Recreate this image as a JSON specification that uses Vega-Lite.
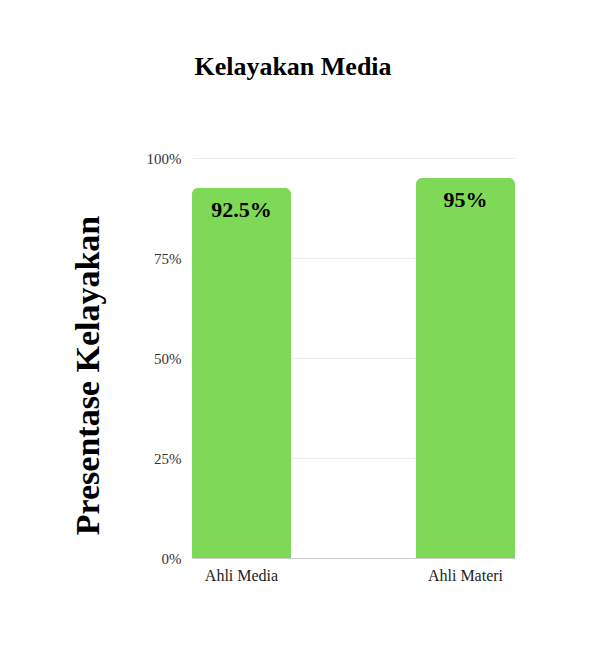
{
  "$schema": "https://vega.github.io/schema/vega-lite/v6.json",
  "autosize": {"type": "none"},
  "width": 323,
  "height": 400,
  "padding": {"left": 192, "top": 158, "right": 96, "bottom": 97},
  "background": "white",
  "title": {
    "text": "Kelayakan Media",
    "font": "Liberation Serif",
    "fontSize": 26,
    "fontWeight": "bold",
    "color": "#000000",
    "anchor": "middle",
    "frame": "bounds",
    "offset": 71,
    "dx": 0
  },
  "data": {
    "values": [
      {"kategori": "Ahli Media", "persen": 92.5, "label": "92.5%"},
      {"kategori": "Ahli Materi", "persen": 95, "label": "95%"}
    ]
  },
  "encoding": {
    "x": {
      "field": "kategori",
      "type": "nominal",
      "sort": null,
      "scale": {"paddingInner": 0.558, "paddingOuter": 0},
      "axis": {
        "title": null,
        "labelAngle": 0,
        "labelFont": "Liberation Serif",
        "labelFontSize": 16,
        "labelColor": "#222222",
        "labelPadding": 9,
        "ticks": false,
        "domain": true,
        "domainColor": "#cccccc",
        "grid": false
      }
    },
    "y": {
      "field": "persen",
      "type": "quantitative",
      "scale": {"domain": [0, 100]},
      "axis": {
        "title": "Presentase Kelayakan",
        "titleFont": "Liberation Serif",
        "titleFontSize": 34,
        "titleFontWeight": "bold",
        "titleColor": "#000000",
        "titlePadding": 41,
        "titleY": 217,
        "values": [0, 25, 50, 75, 100],
        "labelExpr": "datum.value + '%'",
        "labelFont": "Liberation Serif",
        "labelFontSize": 15,
        "labelColor": "#333333",
        "labelPadding": 11,
        "ticks": false,
        "domain": false,
        "grid": true,
        "gridColor": "#ececec"
      }
    }
  },
  "layer": [
    {
      "mark": {"type": "bar", "color": "#7ED957", "cornerRadiusEnd": 6}
    },
    {
      "mark": {
        "type": "text",
        "baseline": "top",
        "dy": 12,
        "font": "Liberation Serif",
        "fontSize": 22,
        "fontWeight": "bold",
        "color": "#000000"
      },
      "encoding": {"text": {"field": "label"}}
    }
  ],
  "config": {"view": {"stroke": null}}
}
